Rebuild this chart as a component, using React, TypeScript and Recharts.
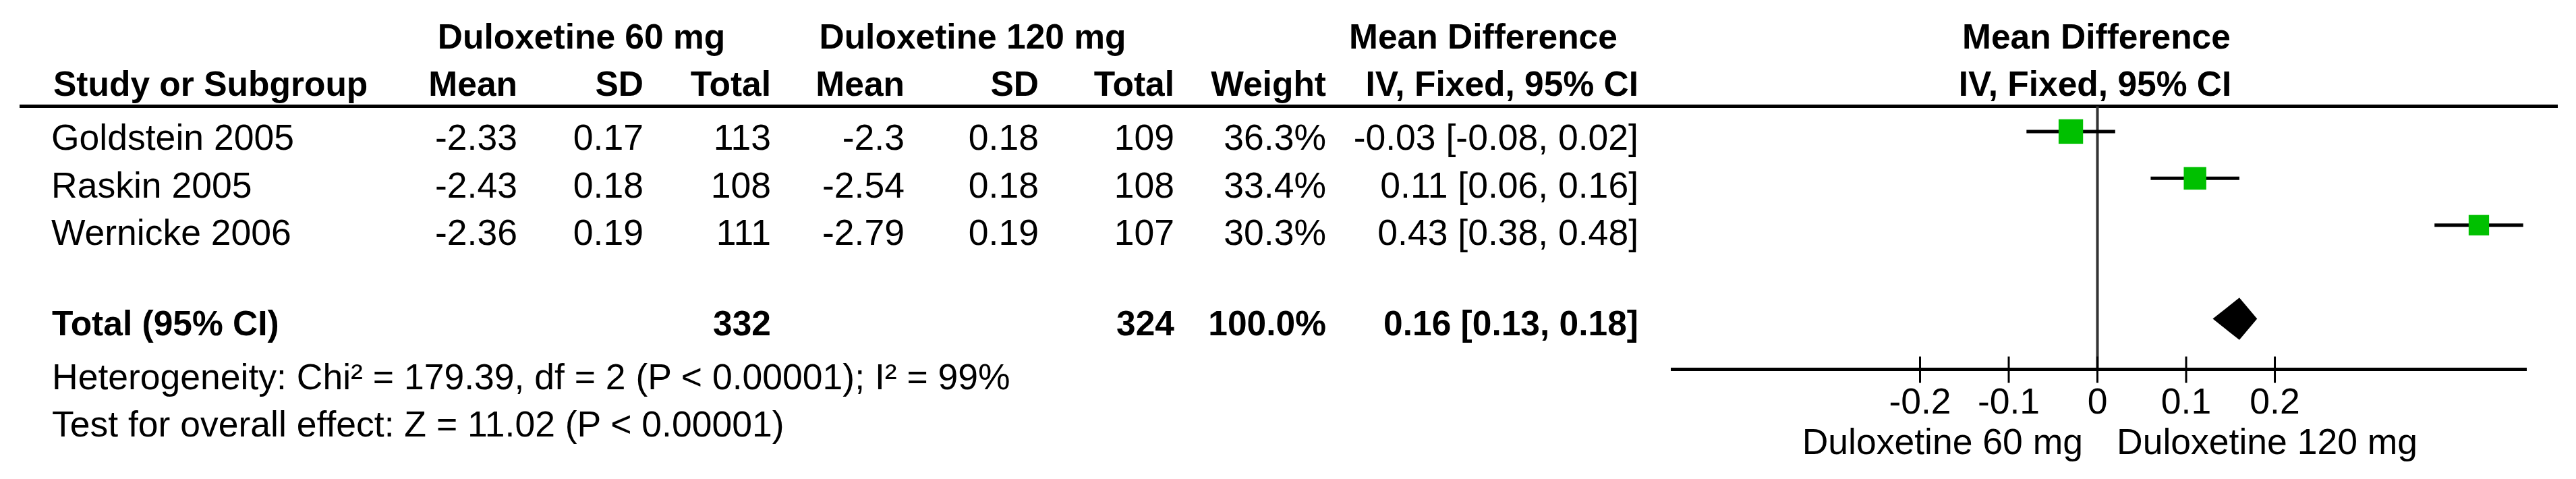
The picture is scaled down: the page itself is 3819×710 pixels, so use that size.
import {
  ComposedChart,
  XAxis,
  YAxis,
  Scatter,
  Line,
  Area,
  ReferenceLine,
  Customized,
} from 'recharts';

const FONT = '"Liberation Sans", Arial, Helvetica, sans-serif';
const WIDTH = 3819;
const HEIGHT = 710;

// study data
const studies = ['Goldstein 2005', 'Raskin 2005', 'Wernicke 2006'];
const mean60 = [-2.33, -2.43, -2.36];
const sd60 = [0.17, 0.18, 0.19];
const total60 = [113, 108, 111];
const mean120 = [-2.3, -2.54, -2.79];
const sd120 = [0.18, 0.18, 0.19];
const total120 = [109, 108, 107];
const weights = [36.3, 33.4, 30.3];
const meanDiff = [-0.03, 0.11, 0.43];
const ciLow = [-0.08, 0.06, 0.38];
const ciHigh = [0.02, 0.16, 0.48];

// pooled estimate
const pooledMd = 0.16;
const pooledLow = 0.13;
const pooledHigh = 0.18;

const axisTicks = [-0.2, -0.1, 0, 0.1, 0.2];
const heterogeneity = 'Heterogeneity: Chi² = 179.39, df = 2 (P < 0.00001); I² = 99%';
const overallEffect = 'Test for overall effect: Z = 11.02 (P < 0.00001)';

const TOTAL_ROW = 5;
const DIAMOND_HALF = 0.45;

const studyPoints = studies.map((name, i) => ({
  name,
  x: meanDiff[i],
  y: i + 1,
  weight: weights[i],
}));

const ciSegments = studies.map((_, i) => [
  { x: ciLow[i], y: i + 1 },
  { x: ciHigh[i], y: i + 1 },
]);

const diamondData = [
  { x: pooledLow, band: [TOTAL_ROW, TOTAL_ROW] },
  { x: pooledMd, band: [TOTAL_ROW - DIAMOND_HALF, TOTAL_ROW + DIAMOND_HALF] },
  { x: pooledHigh, band: [TOTAL_ROW, TOTAL_ROW] },
];

const fmtCi = (m: number, lo: number, hi: number) =>
  `${m.toFixed(2)} [${lo.toFixed(2)}, ${hi.toFixed(2)}]`;

const sum = (a: number[]) => a.reduce((s, v) => s + v, 0);

function WeightSquare(props: any) {
  const { cx, cy, payload } = props;
  const side = payload.weight; // 1px per % weight
  return <rect x={cx - side / 2} y={cy - side / 2} width={side} height={side} fill="#00c000" />;
}

function AxisTick(props: any) {
  const { x, y, payload } = props;
  return (
    <g>
      <line x1={x} x2={x} y1={y - 19} y2={y + 20} stroke="#000" strokeWidth={3} />
      <text x={x} y={y + 65} textAnchor="middle" fontFamily={FONT} fontSize={53.5} fill="#000">
        {payload.value}
      </text>
    </g>
  );
}

// columns (right edges) of the table
const cols = [767, 954, 1143, 1341, 1540, 1741, 1966, 2429];

function TableLayer() {
  const bold = { fontFamily: FONT, fontSize: 51.5, fontWeight: 700, fill: '#000' };
  const reg = { fontFamily: FONT, fontSize: 53.5, fill: '#000' };
  const rowBase = (i: number) => 222 + 70.5 * i;
  const headers2 = ['Mean', 'SD', 'Total', 'Mean', 'SD', 'Total', 'Weight', 'IV, Fixed, 95% CI'];

  return (
    <g>
      <text {...bold} x={862} y={72} textAnchor="middle">Duloxetine 60 mg</text>
      <text {...bold} x={1442} y={72} textAnchor="middle">Duloxetine 120 mg</text>
      <text {...bold} x={2199} y={72} textAnchor="middle">Mean Difference</text>
      <text {...bold} x={3108} y={72} textAnchor="middle">Mean Difference</text>

      <text {...bold} x={79} y={142}>Study or Subgroup</text>
      {headers2.map((h, i) => (
        <text key={i} {...bold} x={cols[i]} y={142} textAnchor="end">{h}</text>
      ))}
      <text {...bold} x={3106} y={142} textAnchor="middle">IV, Fixed, 95% CI</text>

      <line x1={29} x2={3792} y1={157.5} y2={157.5} stroke="#000" strokeWidth={5} />

      {studies.map((s, i) => {
        const cells = [
          String(mean60[i]),
          String(sd60[i]),
          String(total60[i]),
          String(mean120[i]),
          String(sd120[i]),
          String(total120[i]),
          `${weights[i].toFixed(1)}%`,
          fmtCi(meanDiff[i], ciLow[i], ciHigh[i]),
        ];
        return (
          <g key={s}>
            <text {...reg} x={76} y={rowBase(i)}>{s}</text>
            {cells.map((c, j) => (
              <text key={j} {...reg} x={cols[j]} y={rowBase(i)} textAnchor="end">{c}</text>
            ))}
          </g>
        );
      })}

      <text {...bold} x={77} y={497}>Total (95% CI)</text>
      <text {...bold} x={cols[2]} y={497} textAnchor="end">{sum(total60)}</text>
      <text {...bold} x={cols[5]} y={497} textAnchor="end">{sum(total120)}</text>
      <text {...bold} x={cols[6]} y={497} textAnchor="end">{`${sum(weights).toFixed(1)}%`}</text>
      <text {...bold} x={cols[7]} y={497} textAnchor="end">{fmtCi(pooledMd, pooledLow, pooledHigh)}</text>

      <text {...reg} x={77} y={577}>{heterogeneity}</text>
      <text {...reg} x={77} y={647}>{overallEffect}</text>

      <text {...reg} x={3088} y={673} textAnchor="end">Duloxetine 60 mg</text>
      <text {...reg} x={3138} y={673}>Duloxetine 120 mg</text>
    </g>
  );
}

export default function App() {
  return (
    <div style={{ position: 'absolute', left: 0, top: 0, width: WIDTH, height: HEIGHT, background: '#fff' }}>
      <ComposedChart
        width={WIDTH}
        height={HEIGHT}
        margin={{ top: 157.5, right: 73, bottom: 0, left: 2477 }}
      >
        <XAxis
          type="number"
          dataKey="x"
          domain={[-0.481, 0.484]}
          allowDataOverflow
          ticks={axisTicks}
          interval={0}
          height={162.5}
          tickSize={0}
          tickMargin={0}
          tick={<AxisTick />}
          axisLine={{ stroke: '#000', strokeWidth: 5 }}
        />
        <YAxis type="number" dataKey="y" domain={[0.4604, 6.079]} reversed hide allowDataOverflow />
        <ReferenceLine x={0} stroke="#333" strokeWidth={4} />
        {ciSegments.map((seg, i) => (
          <Line
            key={i}
            data={seg}
            dataKey="y"
            stroke="#000"
            strokeWidth={5}
            dot={false}
            activeDot={false}
            isAnimationActive={false}
          />
        ))}
        <Scatter data={studyPoints} dataKey="y" shape={<WeightSquare />} isAnimationActive={false} />
        <Area
          data={diamondData}
          dataKey="band"
          type="linear"
          stroke="none"
          fill="#000"
          fillOpacity={1}
          dot={false}
          activeDot={false}
          isAnimationActive={false}
        />
        <Customized component={TableLayer} />
      </ComposedChart>
    </div>
  );
}
